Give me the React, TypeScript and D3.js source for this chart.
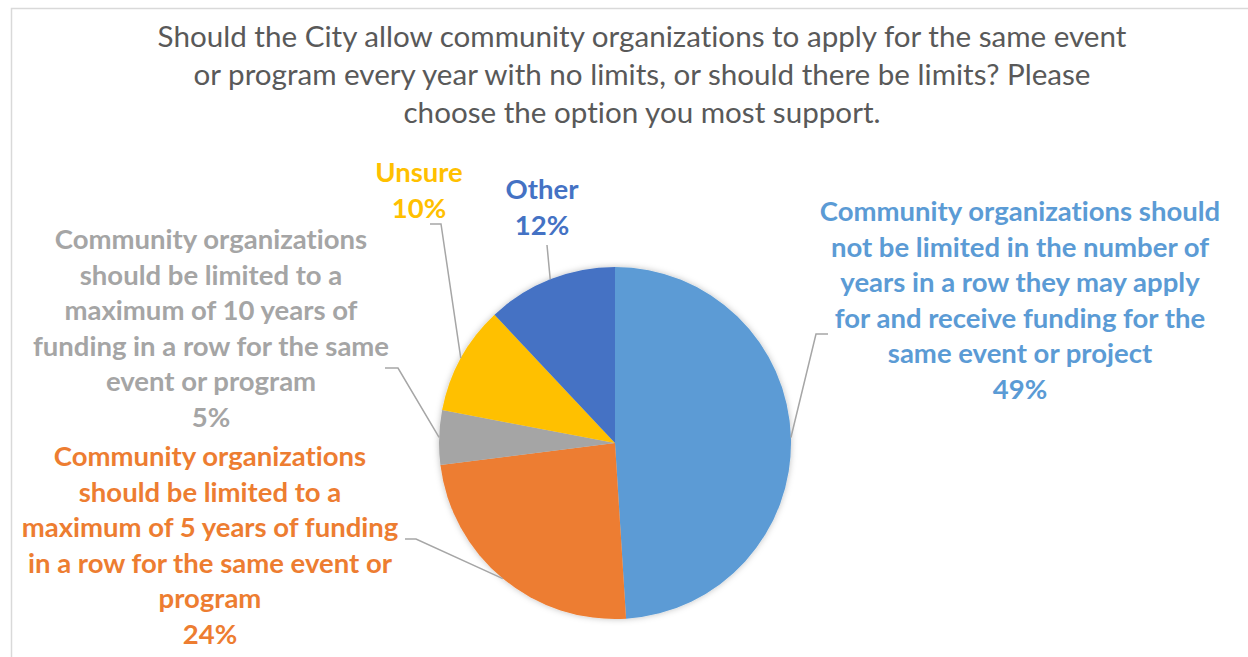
import React from "react";
import * as d3 from "d3";

const TITLE_LINES = [
  "Should the City allow community organizations to apply for the same event",
  "or program every year with no limits, or should there be limits? Please",
  "choose the option you most support.",
];

const CATEGORIES = [
  "Community organizations should not be limited in the number of years in a row they may apply for and receive funding for the same event or project",
  "Community organizations should be limited to a maximum of 5 years of funding in a row for the same event or program",
  "Community organizations should be limited to a maximum of 10 years of funding in a row for the same event or program",
  "Unsure",
  "Other",
];

const VALUES = [49, 24, 5, 10, 12];

const COLORS = ["#5B9BD5", "#ED7D31", "#A5A5A5", "#FFC000", "#4472C4"];

const LABEL_LINES = [
  ["Community organizations should", "not be limited in the number of", "years in a row they may apply", "for and receive funding for the", "same event or project"],
  ["Community organizations", "should be limited to a", "maximum of 5 years of funding", "in a row for the same event or", "program"],
  ["Community organizations", "should be limited to a", "maximum of 10 years of", "funding in a row for the same", "event or program"],
  ["Unsure"],
  ["Other"],
];

// layout (label anchor positions and leader lines)
const LABEL_POS = [
  { x: 1020, y: 212 },
  { x: 210, y: 457 },
  { x: 211, y: 240 },
  { x: 419, y: 173 },
  { x: 542, y: 190 },
];
const LEADERS = [
  [[828, 334], [816, 334]],
  [[405, 539], [416, 539]],
  [[385, 368], [398, 368]],
  [[430, 224], [441, 224]],
  [[547, 245], [547, 245]],
];

export default function App() {
  const cx = 615;
  const cy = 443;
  const r = 176;
  const pie = d3.pie<number>().sort(null).value((d) => d)(VALUES);
  const arc = d3.arc<d3.PieArcDatum<number>>().innerRadius(0).outerRadius(r);
  const total = d3.sum(VALUES);
  const lineH = 35.6;

  return (
    <svg width={1248} height={657} style={{ position: "absolute", left: 0, top: 0, fontVariantLigatures: "none" }}>
      <defs>
        <filter id="sh" x="-20%" y="-20%" width="140%" height="140%">
          <feDropShadow dx="0" dy="0" stdDeviation="3" floodColor="#000" floodOpacity="0.25" />
        </filter>
      </defs>
      <rect x={0} y={0} width={1248} height={657} fill="#fff" />
      <rect x={11.5} y={8.5} width={1400} height={800} fill="#fff" stroke="#d9d9d9" strokeWidth={1.5} />
      <g fontFamily="Lato, 'Open Sans', sans-serif" fontSize={29.6} fill="#595959" textAnchor="middle">
        {TITLE_LINES.map((t, i) => (
          <text key={i} x={642} y={47 + i * 38}>{t}</text>
        ))}
      </g>
      <g transform={`translate(${cx},${cy})`} filter="url(#sh)">
        {pie.map((p, i) => (
          <path key={i} d={arc(p) || ""} fill={COLORS[i]} />
        ))}
      </g>
      <g fill="none" stroke="#A6A6A6" strokeWidth={1.5}>
        {pie.map((p, i) => {
          const mid = (p.startAngle + p.endAngle) / 2;
          const ex = cx + r * Math.sin(mid);
          const ey = cy - r * Math.cos(mid);
          const pts = [...LEADERS[i], [ex, ey]] as [number, number][];
          return <path key={i} d={d3.line()(pts) || ""} />;
        })}
      </g>
      <g fontFamily="Lato, 'Open Sans', sans-serif" fontWeight="bold" fontSize={27.5} textAnchor="middle">
        {LABEL_LINES.map((lines, i) => (
          <text key={i} fill={COLORS[i]}>
            {[...lines, `${Math.round((VALUES[i] / total) * 100)}%`].map((l, j) => (
              <tspan key={j} x={LABEL_POS[i].x} y={LABEL_POS[i].y + 9 + j * lineH}>{l}</tspan>
            ))}
          </text>
        ))}
      </g>
    </svg>
  );
}
